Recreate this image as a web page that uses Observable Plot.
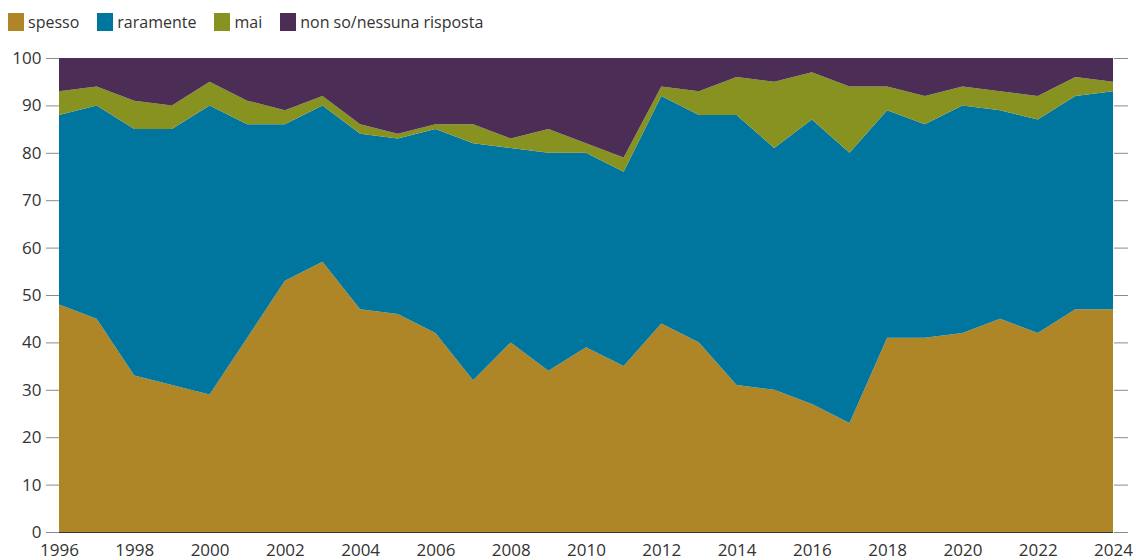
<!DOCTYPE html>
<html>
<head>
<meta charset="utf-8">
<script src="https://cdn.jsdelivr.net/npm/d3@7"></script>
<script src="https://cdn.jsdelivr.net/npm/@observablehq/plot@0.6"></script>
<style>
  html, body { margin: 0; padding: 0; background: #fff; }
  body { width: 1136px; height: 560px; overflow: hidden; font-family: "Open Sans", sans-serif; }
  #legend { height: 40px; display: flex; align-items: center; padding-left: 8px; box-sizing: border-box; padding-top: 3px; }
  .item { display: flex; align-items: center; margin-right: 18px; font-size: 16px; color: #333; }
  .sw { width: 16px; height: 18px; margin-right: 4px; }
  svg { display: block; }
</style>
</head>
<body>
<div id="legend"></div>
<div id="chart"></div>
<script>
const years = [1996,1997,1998,1999,2000,2001,2002,2003,2004,2005,2006,2007,2008,2009,2010,2011,2012,2013,2014,2015,2016,2017,2018,2019,2020,2021,2022,2023,2024];
const seriesNames = ["spesso", "raramente", "mai", "non so/nessuna risposta"];
const colors = ["#ae8628", "#00759e", "#879221", "#4b2d56"];
const spesso    = [48,45,33,31,29,41,53,57,47,46,42,32,40,34,39,35,44,40,31,30,27,23,41,41,42,45,42,47,47];
const raramente = [40,45,52,54,61,45,33,33,37,37,43,50,41,46,41,41,48,48,57,51,60,57,48,45,48,44,45,45,46];
const mai       = [5,4,6,5,5,5,3,2,2,1,1,4,2,5,2,3,2,5,8,14,10,14,5,6,4,4,5,4,2];
const nonSo     = [7,6,9,10,5,9,11,8,14,16,14,14,17,15,18,21,6,7,4,5,3,6,6,8,6,7,8,4,5];
const yTicks = [0,10,20,30,40,50,60,70,80,90,100];
const xTicks = [1996,1998,2000,2002,2004,2006,2008,2010,2012,2014,2016,2018,2020,2022,2024];

const valuesBySeries = [spesso, raramente, mai, nonSo];
const data = [];
seriesNames.forEach((s, i) => years.forEach((y, j) => data.push({year: y, series: s, value: valuesBySeries[i][j]})));

const legend = document.getElementById("legend");
seriesNames.forEach((s, i) => {
  const it = document.createElement("div");
  it.className = "item";
  it.innerHTML = `<span class="sw" style="background:${colors[i]}"></span><span>${s}</span>`;
  legend.appendChild(it);
});

const chart = Plot.plot({
  width: 1136,
  height: 520,
  marginLeft: 59,
  marginRight: 23,
  marginTop: 18,
  marginBottom: 28,
  style: {fontFamily: "'Open Sans', sans-serif", fontSize: "17px", color: "#333", background: "#fff"},
  x: {domain: [1996, 2024], ticks: xTicks, tickFormat: d => String(d)},
  y: {domain: [0, 100], ticks: yTicks},
  color: {domain: seriesNames, range: colors},
  marks: [
    Plot.gridY(yTicks, {stroke: "#c8c8c8", strokeOpacity: 1}),
    Plot.areaY(data, {x: "year", y: "value", z: "series", fill: "series", order: seriesNames}),
    Plot.axisY(yTicks, {anchor: "left", tickSize: 13, tickPadding: 5, stroke: "#8a8a8a", fill: "#333", label: null}),
    Plot.axisY(yTicks, {anchor: "right", tickSize: 14, tickFormat: () => "", stroke: "#8a8a8a", label: null}),
    Plot.axisX(xTicks, {anchor: "bottom", tickSize: 0, tickPadding: 11, fill: "#333", label: null, tickFormat: d => String(d)}),
    Plot.ruleY([0], {stroke: "#333"})
  ]
});
document.getElementById("chart").appendChild(chart);
</script>
</body>
</html>
